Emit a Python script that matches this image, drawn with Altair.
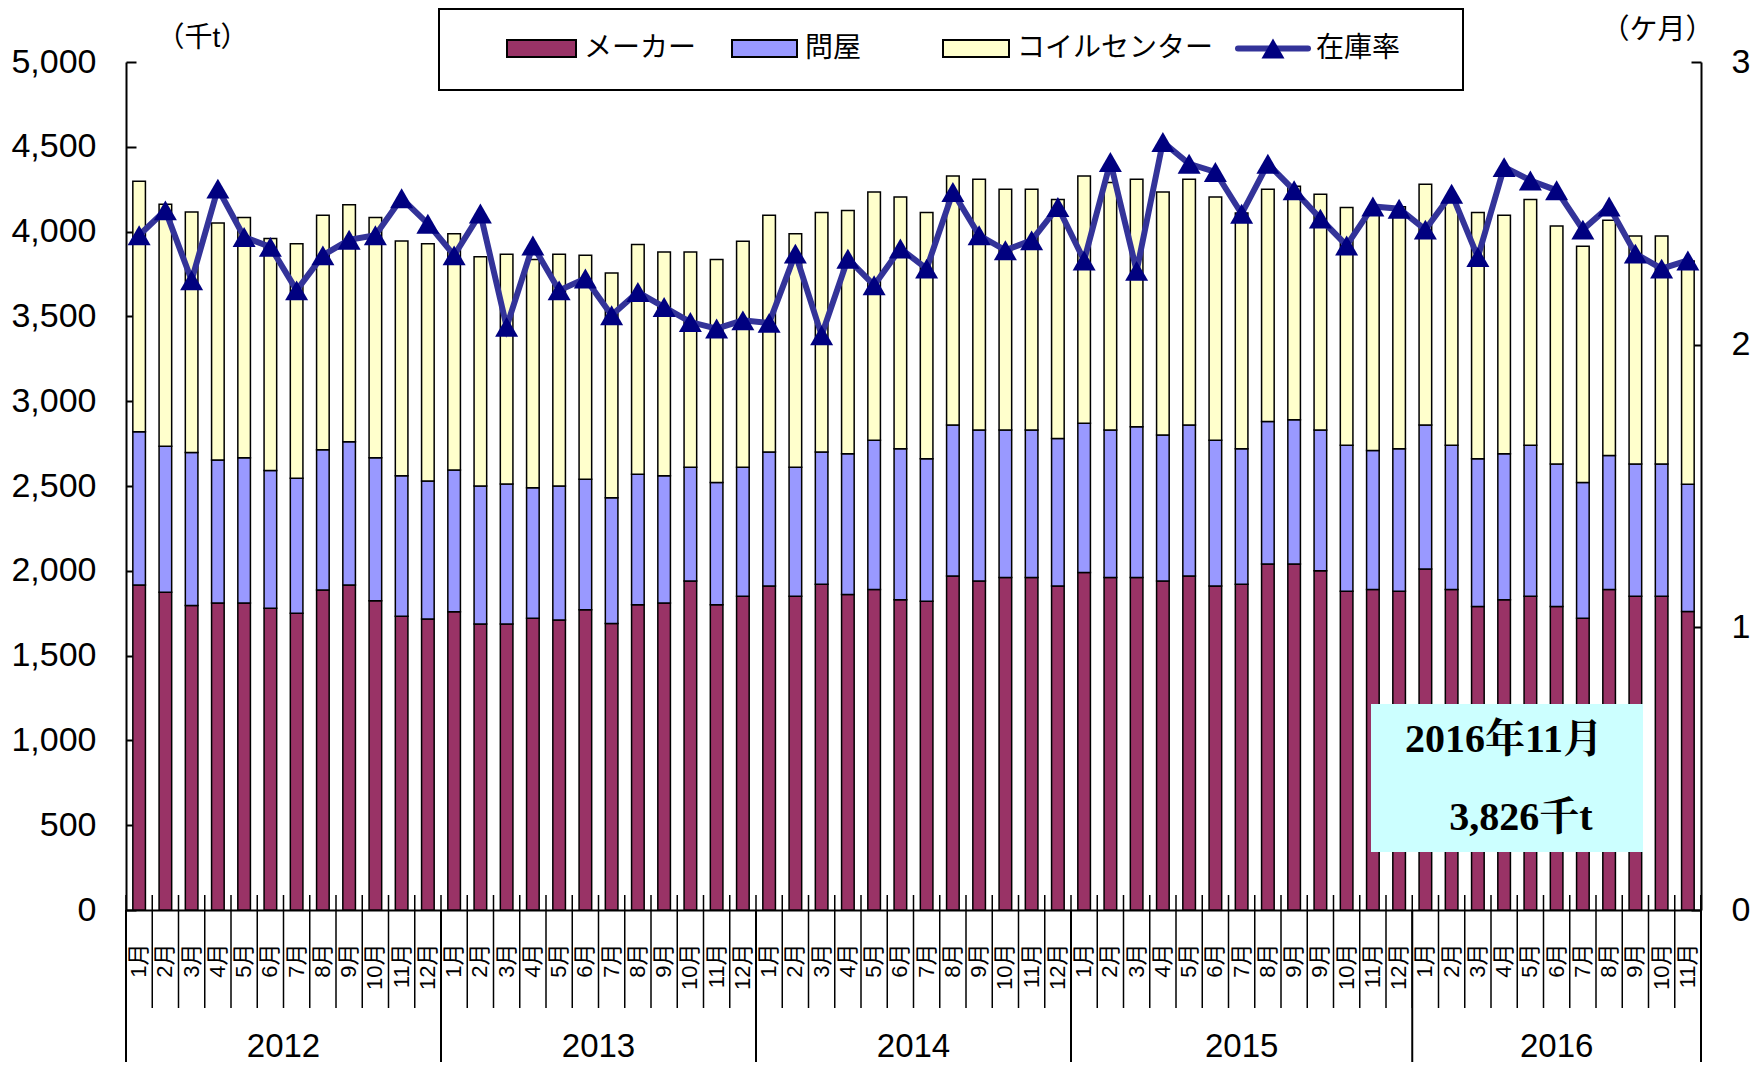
import altair as alt
import pandas as pd

# ---------------- data ----------------
series_names = ["メーカー", "問屋", "コイルセンター"]
series_colors = ["#993366", "#9999FF", "#FFFFCC"]
ratio_name = "在庫率"

years = ["2012", "2013", "2014", "2015", "2016"]
year_counts = [12, 12, 12, 13, 11]

month_labels = [
    # 2012
    "1月", "2月", "3月", "4月", "5月", "6月", "7月", "8月", "9月", "10月", "11月", "12月",
    # 2013
    "1月", "2月", "3月", "4月", "5月", "6月", "7月", "8月", "9月", "10月", "11月", "12月",
    # 2014
    "1月", "2月", "3月", "4月", "5月", "6月", "7月", "8月", "9月", "10月", "11月", "12月",
    # 2015
    "1月", "2月", "3月", "4月", "5月", "6月", "7月", "8月", "9月", "9月", "10月", "11月", "12月",
    # 2016
    "1月", "2月", "3月", "4月", "5月", "6月", "7月", "8月", "9月", "10月", "11月",
]

maker = [1916, 1873, 1795, 1810, 1810, 1779, 1750, 1887, 1916, 1824, 1732, 1716,
         1759, 1687, 1687, 1720, 1710, 1770, 1690, 1800, 1810, 1940, 1800, 1850,
         1910, 1850, 1920, 1860, 1890, 1830, 1820, 1970, 1940, 1960, 1960, 1910,
         1990, 1960, 1960, 1940, 1970, 1910, 1920, 2040, 2040, 2000, 1880, 1890, 1880,
         2010, 1890, 1790, 1830, 1850, 1790, 1720, 1890, 1850, 1850, 1760]
tonya = [904, 861, 903, 843, 857, 813, 795, 827, 845, 843, 829, 813,
         836, 813, 825, 770, 790, 770, 740, 770, 750, 670, 720, 760,
         790, 760, 780, 830, 880, 890, 840, 890, 890, 870, 870, 870,
         880, 870, 890, 860, 890, 860, 800, 840, 850, 830, 860, 820, 840,
         850, 850, 870, 860, 890, 840, 800, 790, 780, 780, 750]
coil = [1477, 1427, 1418, 1398, 1416, 1367, 1384, 1382, 1398, 1416, 1384, 1400,
        1393, 1351, 1354, 1345, 1366, 1320, 1326, 1354, 1320, 1270, 1315, 1333,
        1396, 1378, 1413, 1435, 1463, 1484, 1453, 1468, 1478, 1419, 1419, 1409,
        1458, 1460, 1458, 1433, 1448, 1434, 1390, 1369, 1377, 1390, 1402, 1420, 1426,
        1419, 1450, 1453, 1406, 1449, 1403, 1394, 1387, 1344, 1344, 1316]
ratio = [2.387, 2.475, 2.228, 2.552, 2.381, 2.346, 2.192, 2.316, 2.371, 2.387, 2.518, 2.428,
         2.316, 2.464, 2.063, 2.351, 2.192, 2.234, 2.104, 2.186, 2.133, 2.080, 2.057, 2.086,
         2.077, 2.322, 2.033, 2.304, 2.210, 2.340, 2.269, 2.540, 2.387, 2.334, 2.369, 2.487,
         2.298, 2.646, 2.261, 2.717, 2.640, 2.611, 2.463, 2.640, 2.546, 2.446, 2.351, 2.489, 2.481,
         2.407, 2.534, 2.310, 2.628, 2.581, 2.546, 2.407, 2.489, 2.322, 2.269, 2.298]

left_ticks = [0, 500, 1000, 1500, 2000, 2500, 3000, 3500, 4000, 4500, 5000]
right_ticks = [0, 1, 2, 3]

# ---------------- frames ----------------
n = len(maker)
idx = list(range(n))
rows = []
for i in idx:
    for k, vals in enumerate([maker, tonya, coil]):
        rows.append({"idx": i, "series": series_names[k], "order": k, "value": vals[i]})
bars_df = pd.DataFrame(rows)
line_df = pd.DataFrame({"idx": idx, "ratio": ratio})

starts = []
s = 0
for c in year_counts:
    starts.append(s)
    s += c
sep_df = pd.DataFrame({"idx": starts})
end_df = pd.DataFrame({"idx": [n - 1]})
even_years = pd.DataFrame({"year": [y for y, c in zip(years, year_counts) if c % 2 == 0],
                           "idx": [st + c // 2 - 1 for st, c in zip(starts, year_counts) if c % 2 == 0]})
odd_years = pd.DataFrame({"year": [y for y, c in zip(years, year_counts) if c % 2 == 1],
                          "idx": [st + c // 2 for st, c in zip(starts, year_counts) if c % 2 == 1]})

last_total = maker[-1] + tonya[-1] + coil[-1]
ann_df = pd.DataFrame({"l1": [f"{years[-1]}年{month_labels[-1]}"],
                       "l2": [f"{last_total:,}千t"]})

# ---------------- layout ----------------
W, H = 1575, 848
STEP = W / n
HALF = STEP / 2
SANS = "'Liberation Sans', 'Noto Sans CJK JP', sans-serif"
SERIF = "'Liberation Serif', 'Noto Serif CJK JP', 'Noto Sans CJK JP', serif"

label_js = "[" + ",".join(f"'{m}'" for m in month_labels) + "][datum.value]"

x_axis = alt.Axis(title=None, labelExpr=label_js, labelAngle=270, labelAlign="right",
                  labelBaseline="middle", labelFontSize=22, labelPadding=33, ticks=False,
                  tickSize=0, domainColor="black", domainWidth=2, grid=False,
                  labelOverlap=False, labelFont=SANS, labelColor="black")
X = alt.X("idx:O", scale=alt.Scale(paddingInner=0.52, paddingOuter=0.26), axis=x_axis)

left_axis = alt.Axis(values=left_ticks, format=",d", ticks=False, tickSize=0, labelPadding=30,
                     labelFontSize=34, labelFont=SANS, labelColor="black",
                     domainColor="black", domainWidth=2,
                     grid=True, gridColor="black", gridWidth=2, gridDash=[10, 4000],
                     title="（千t）", titleAngle=0, titleX=76, titleY=-24, titleAlign="center",
                     titleBaseline="middle", titleFontSize=28, titleFontWeight="normal",
                     titleFont=SANS, titleColor="black")
right_axis = alt.Axis(orient="right", values=right_ticks, format="d", ticks=False, tickSize=0,
                      labelPadding=30, labelFontSize=34, labelFont=SANS, labelColor="black",
                      domainColor="black", domainWidth=2,
                      grid=True, gridColor="black", gridWidth=2, gridDash=[10, 4000],
                      title="（ケ月）", titleAngle=0, titleX=-44, titleY=-32, titleAlign="center",
                      titleBaseline="middle", titleFontSize=28, titleFontWeight="normal",
                      titleFont=SANS, titleColor="black")

bars = alt.Chart(bars_df).mark_bar(stroke="black", strokeWidth=1.5).encode(
    x=X,
    y=alt.Y("value:Q", stack="zero", scale=alt.Scale(domain=[0, 5000], nice=False), axis=left_axis),
    color=alt.Color("series:N", scale=alt.Scale(domain=series_names, range=series_colors), legend=None),
    order=alt.Order("order:Q"),
)

month_rules = alt.Chart(line_df).mark_rule(color="black", strokeWidth=1.5, xOffset=-HALF).encode(
    x=X, y=alt.value(H - 15), y2=alt.value(H + 98))
year_rules = alt.Chart(sep_df).mark_rule(color="black", strokeWidth=2, xOffset=-HALF).encode(
    x=X, y=alt.value(H), y2=alt.value(H + 152))
end_rule = alt.Chart(end_df).mark_rule(color="black", strokeWidth=2, xOffset=HALF).encode(
    x=X, y=alt.value(H - 15), y2=alt.value(H + 152))
year_text_a = alt.Chart(even_years).mark_text(fontSize=33, font=SANS, color="black", dx=HALF,
                                              baseline="middle").encode(
    x=X, y=alt.value(H + 137), text="year:N")
year_text_b = alt.Chart(odd_years).mark_text(fontSize=33, font=SANS, color="black",
                                             baseline="middle").encode(
    x=X, y=alt.value(H + 137), text="year:N")

ann_box = alt.Chart(ann_df).mark_rect(color="#CCFFFF").encode(
    x=alt.value(1245), x2=alt.value(1517), y=alt.value(642), y2=alt.value(790))
ann_t1 = alt.Chart(ann_df).mark_text(font=SERIF, fontSize=40, fontWeight="bold", color="black",
                                     baseline="middle").encode(
    x=alt.value(1378), y=alt.value(678), text="l1:N")
ann_t2 = alt.Chart(ann_df).mark_text(font=SERIF, fontSize=40, fontWeight="bold", color="black",
                                     baseline="middle").encode(
    x=alt.value(1395), y=alt.value(756), text="l2:N")

# legend (hand-built box)
one = pd.DataFrame({"k": [0]})
legend_layers = [
    alt.Chart(one).mark_rect(fill="white", stroke="black", strokeWidth=2).encode(
        x=alt.value(313), x2=alt.value(1337), y=alt.value(-53), y2=alt.value(28))
]
sw_x = [(381, 450), (606, 671), (817, 883)]
for name, col, (x0, x1) in zip(series_names, series_colors, sw_x):
    legend_layers.append(
        alt.Chart(one).mark_rect(fill=col, stroke="black", strokeWidth=2).encode(
            x=alt.value(x0), x2=alt.value(x1), y=alt.value(-22), y2=alt.value(-5)))
    legend_layers.append(
        alt.Chart(one).mark_text(text=name, fontSize=28, font=SANS, color="black",
                                 align="left", baseline="middle").encode(
            x=alt.value(x1 + 8), y=alt.value(-13)))
legend_layers.append(
    alt.Chart(one).mark_rule(color="#333399", strokeWidth=6, strokeCap="round").encode(
        x=alt.value(1112), x2=alt.value(1182), y=alt.value(-13.5)))
legend_layers.append(
    alt.Chart(one).mark_point(shape="triangle-up", filled=True, color="#000080", size=530,
                              opacity=1).encode(x=alt.value(1147), y=alt.value(-13.5)))
legend_layers.append(
    alt.Chart(one).mark_text(text=ratio_name, fontSize=28, font=SANS, color="black",
                             align="left", baseline="middle").encode(
        x=alt.value(1190), y=alt.value(-13)))

left = alt.layer(bars, month_rules, year_rules, end_rule, year_text_a, year_text_b,
                 ann_box, ann_t1, ann_t2, *legend_layers)

Yr = alt.Y("ratio:Q", scale=alt.Scale(domain=[0, 3], nice=False), axis=right_axis)
line = alt.Chart(line_df).mark_line(color="#333399", strokeWidth=6).encode(x=X, y=Yr)
points = alt.Chart(line_df).mark_point(shape="triangle-up", filled=True, color="#000080",
                                       size=530, opacity=1).encode(x=X, y=Yr)
right = alt.layer(line, points)

chart = alt.layer(left, right).resolve_scale(y="independent").properties(
    width=W, height=H,
    autosize=alt.AutoSizeParams(type="none"),
    padding={"left": 118, "top": 54, "right": 49, "bottom": 154},
    background="white",
).configure_view(stroke=None)

chart.save("out.html", embed_options={"renderer": "svg", "actions": False})
